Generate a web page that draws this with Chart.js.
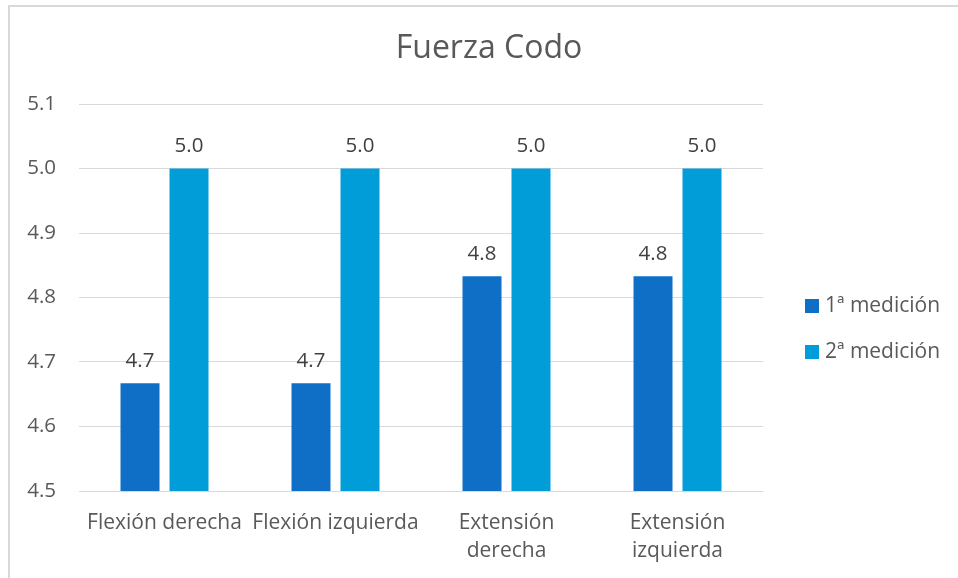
<!DOCTYPE html>
<html>
<head>
<meta charset="utf-8">
<script src="https://cdn.jsdelivr.net/npm/chart.js@4"></script>
<style>
  html, body { margin: 0; padding: 0; background: #fff; }
  #wrap { position: relative; width: 958px; height: 578px; overflow: hidden; }
  #frame { position: absolute; left: 8px; top: 5px; width: 1000px; height: 1000px; border: 2px solid #d9d9d9; }
  #chart { position: absolute; left: 0; top: 0; }
</style>
</head>
<body>
<div id="wrap">
  <div id="frame"></div>
  <canvas id="chart" width="958" height="578"></canvas>
</div>
<script>
// chart data
const titleText = 'Fuerza Codo';
const categories = ['Flexión derecha', 'Flexión izquierda', ['Extensión', 'derecha'], ['Extensión', 'izquierda']];
const seriesNames = ['1ª medición', '2ª medición'];
const medicion1 = [4.667, 4.667, 4.833, 4.833];
const medicion2 = [5.0, 5.0, 5.0, 5.0];
const yMin = 4.5;
const yMax = 5.1;
const yStep = 0.1;

const FONT = "'Open Sans', sans-serif";
const colors = ['#0F6FC6', '#009DD9'];

// title, legend and value labels drawn on the canvas
const decorPlugin = {
  id: 'decor',
  afterDraw(chart) {
    const ctx = chart.ctx;
    ctx.save();

    // title
    ctx.fillStyle = '#595959';
    ctx.font = '32px ' + FONT;
    ctx.textAlign = 'center';
    ctx.textBaseline = 'middle';
    ctx.fillText(titleText, 489, 49);

    // value labels above bars
    ctx.fillStyle = '#404040';
    ctx.font = '20.5px ' + FONT;
    chart.data.datasets.forEach((ds, i) => {
      chart.getDatasetMeta(i).data.forEach((bar, j) => {
        ctx.fillText(ds.data[j].toFixed(1), bar.x, bar.y - 22);
      });
    });

    // legend
    ctx.textAlign = 'left';
    ctx.font = '21px ' + FONT;
    chart.data.datasets.forEach((ds, i) => {
      const top = 299 + i * 46;
      ctx.fillStyle = ds.backgroundColor;
      ctx.fillRect(805, top, 14, 14);
      ctx.fillStyle = '#595959';
      ctx.fillText(ds.label, 825, top + 7);
    });

    ctx.restore();
  }
};

new Chart(document.getElementById('chart'), {
  type: 'bar',
  data: {
    labels: categories,
    datasets: [
      { label: seriesNames[0], data: medicion1, backgroundColor: colors[0] },
      { label: seriesNames[1], data: medicion2, backgroundColor: colors[1] }
    ]
  },
  options: {
    responsive: false,
    animation: false,
    categoryPercentage: 0.573,
    barPercentage: 0.796,
    layout: { padding: { left: 20, top: 104, right: 195, bottom: 0 } },
    plugins: {
      legend: { display: false },
      title: { display: false },
      tooltip: { enabled: false }
    },
    scales: {
      x: {
        grid: { display: false },
        border: { display: false },
        ticks: {
          color: '#595959',
          font: { family: FONT, size: 21, lineHeight: 1.333 },
          padding: 10,
          maxRotation: 0,
          autoSkip: false
        },
        afterFit(scale) { scale.height = 87; }
      },
      y: {
        min: yMin,
        max: yMax,
        grid: { color: '#d9d9d9', lineWidth: 1, drawTicks: false },
        border: { display: false },
        ticks: {
          stepSize: yStep,
          color: '#595959',
          font: { family: FONT, size: 20.5 },
          padding: 23,
          callback: v => Number(v).toFixed(1)
        },
        afterFit(scale) { scale.width = 59; }
      }
    }
  },
  plugins: [decorPlugin]
});
</script>
</body>
</html>
